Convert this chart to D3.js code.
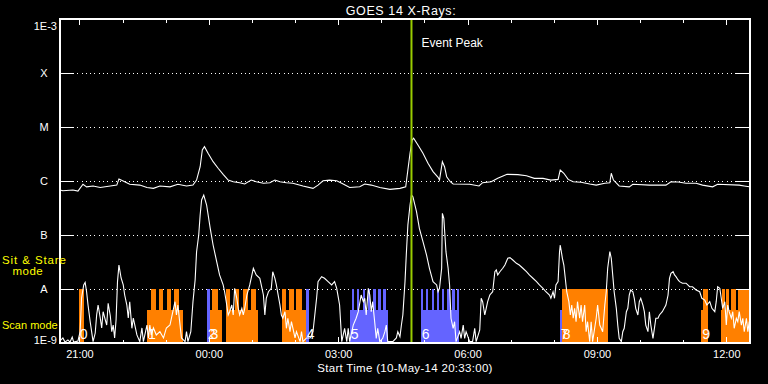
<!DOCTYPE html>
<html><head><meta charset="utf-8">
<script src="https://cdn.jsdelivr.net/npm/d3@7"></script>
<style>html,body{margin:0;padding:0;background:#000;}svg{display:block;}</style>
</head><body><svg id="chart" width="768" height="384"></svg>
<script>
// ---------- DATA ----------
const chartTitle = "GOES 14 X-Rays:";
const startTime = new Date(2014, 4, 10, 20, 33, 0);   // 10-May-14 20:33:00
const spanHours = 16;
const eventPeakMin = 489;                               // minutes after start
const yLevels = [1e-9, 1e-8, 1e-7, 1e-6, 1e-5, 1e-4, 1e-3];
const yLabels = ["1E-9", "A", "B", "C", "M", "X", "1E-3"];

// long channel (1-8 A), minutes after start / flux W m^-2
const longTimes = [0,4,18,25,32,37,46,56,70,79,82,90,97,111,121,130,139,153,164,176,185,190,195,198,201,206,213,220,227,234,241,250,257,266,273,283,292,299,306,315,324,338,352,359,366,375,385,394,403,417,424,433,445,459,473,481,484,487,490,492,498,505,512,519,526,528,532,535,538,543,547,570,583,588,600,609,622,637,649,660,672,683,693,696,701,707,714,725,737,746,758,765,767,770,778,792,797,820,843,850,860,871,885,894,908,915,945,952,959];
const longFlux = [6.8e-7,6.6e-7,6.8e-7,6.5e-7,8.7e-7,7.8e-7,8.1e-7,7.6e-7,8.1e-7,8.4e-7,1.09e-6,9.7e-7,8.7e-7,8.4e-7,7.6e-7,7.3e-7,8.1e-7,7.8e-7,8.7e-7,8.1e-7,8.4e-7,1.04e-6,1.84e-6,3.75e-6,4.32e-6,3.26e-6,2.28e-6,1.72e-6,1.33e-6,1.04e-6,9.7e-7,9.3e-7,8.8e-7,1.04e-6,9.7e-7,9.1e-7,9.3e-7,1.04e-6,9.7e-7,9.3e-7,9.1e-7,8.1e-7,7.3e-7,8.4e-7,1.01e-6,1.04e-6,1.01e-6,8.8e-7,7.6e-7,7.8e-7,8.8e-7,8.4e-7,7.6e-7,7.0e-7,7.3e-7,7.8e-7,1.6e-6,3.26e-6,5.74e-6,6.18e-6,4.64e-6,3.26e-6,2.13e-6,1.49e-6,1.17e-6,1.04e-6,2.28e-6,1.84e-6,1.2e-6,9.7e-7,8.8e-7,8.7e-7,8.1e-7,9.3e-7,9.7e-7,1.12e-6,1.33e-6,1.31e-6,1.25e-6,1.12e-6,1.12e-6,1.04e-6,1.07e-6,1.6e-6,1.39e-6,1.07e-6,9.7e-7,9.5e-7,8.8e-7,8.4e-7,9.1e-7,9.3e-7,1.39e-6,1.04e-6,8.1e-7,7.8e-7,8.7e-7,8.4e-7,8.4e-7,9.7e-7,9.6e-7,9.1e-7,9.1e-7,8.4e-7,7.8e-7,8.7e-7,8.4e-7,8.1e-7,7.8e-7];

// short channel (0.5-4 A)
const shortTimes = [0,4,7,11,14,17,19,25,28,30,33,35,37,39,42,44,46,49,51,53,56,58,60,63,65,67,70,72,74,76,78,80,82,85,88,90,93,95,97,100,102,107,111,114,116,121,123,125,127,130,134,139,144,148,153,157,160,162,164,167,169,174,176,178,182,185,188,190,193,195,197,200,204,209,213,218,222,227,229,232,234,236,239,241,243,246,248,250,253,255,257,260,264,269,273,278,280,283,285,287,290,294,296,299,301,306,308,310,313,315,317,320,322,327,329,334,336,338,343,348,352,354,357,359,364,368,373,378,382,385,387,389,392,396,399,401,403,408,412,415,419,422,424,426,429,431,433,435,438,440,442,445,449,452,454,456,463,468,470,473,475,477,480,482,484,487,489,491,496,500,505,510,514,519,524,526,528,531,532,534,537,540,542,544,547,549,551,556,558,561,563,565,570,574,577,579,584,586,588,591,593,595,598,602,605,607,609,612,616,619,623,626,630,635,639,644,649,653,658,663,667,672,676,681,683,686,688,690,693,695,696,699,701,703,705,708,710,712,714,716,718,720,723,725,727,730,732,734,737,739,741,746,748,751,753,755,758,760,762,765,767,769,771,774,776,778,781,783,785,788,790,792,794,797,799,801,804,806,808,811,813,815,818,820,822,825,827,829,832,834,838,843,846,848,850,853,855,857,860,862,866,871,876,880,885,890,893,897,900,904,907,911,913,915,918,920,922,925,927,929,931,934,936,938,941,943,945,948,950,952,955,957,959];
const shortFlux = [1.09e-9,1.24e-9,1.04e-9,1.14e-9,1.04e-9,1.29e-9,1.04e-9,1.09e-9,1.62e-9,6.8e-9,1.19e-8,1.33e-8,8.9e-9,5.05e-9,2.48e-9,1.62e-9,1.06e-9,1.53e-9,3.3e-9,5.05e-9,2.9e-9,1.9e-9,3.8e-9,2.67e-9,2.15e-9,5.43e-9,3.16e-9,1.62e-9,2.15e-9,1.24e-9,2.67e-9,1.37e-8,2.78e-8,1.6e-8,1.19e-8,7.74e-9,5.05e-9,2.9e-9,5.82e-9,1.87e-9,2.9e-9,1.41e-9,1.06e-9,1.9e-9,1.06e-9,2.15e-9,1.24e-9,2.15e-9,1.41e-9,1.9e-9,1.41e-9,1.62e-9,1.24e-9,1.9e-9,2.15e-9,3.8e-9,5.82e-9,3.3e-9,5.05e-9,2.15e-9,1.24e-9,1.06e-9,1.62e-9,1.06e-9,1.62e-9,5.82e-9,1.47e-8,4.84e-8,1.0e-7,2.35e-7,4.45e-7,5.5e-7,3.59e-7,1.33e-7,6.53e-8,3.21e-8,1.82e-8,1.19e-8,8.9e-9,5.05e-9,3.3e-9,3.8e-9,5.05e-9,3.3e-9,1.03e-8,6.73e-9,4.39e-9,3.3e-9,4.39e-9,3.3e-9,4.39e-9,7.74e-9,1.19e-8,2.42e-8,1.82e-8,1.58e-8,1.19e-8,7.74e-9,3.3e-9,6.73e-9,8.9e-9,1.03e-8,2.09e-8,1.58e-8,1.19e-8,5.05e-9,3.3e-9,2.87e-9,3.8e-9,1.87e-9,2.87e-9,1.62e-9,2.48e-9,1.24e-9,1.62e-9,1.06e-9,1.62e-9,1.06e-9,1.24e-9,1.24e-9,1.62e-9,2.87e-9,6.73e-9,1.37e-8,1.69e-8,1.58e-8,1.37e-8,1.19e-8,1.37e-8,1.03e-8,7.2e-9,5.05e-9,1.06e-9,1.87e-9,1.06e-9,1.87e-9,1.06e-9,2.15e-9,2.87e-9,3.8e-9,7.74e-9,5.82e-9,6.73e-9,3.3e-9,1.03e-8,7.74e-9,3.8e-9,5.82e-9,2.32e-9,1.22e-9,1.87e-9,1.06e-9,1.22e-9,1.62e-9,2.15e-9,1.06e-9,1.06e-9,1.24e-9,1.62e-9,1.31e-9,2.15e-9,3.3e-9,1.37e-8,4.91e-8,1.53e-7,3.59e-7,5.5e-7,5.12e-7,2.7e-7,1.33e-7,7.52e-8,4.26e-8,2.42e-8,1.37e-8,1.19e-8,8.9e-9,1.03e-8,2.42e-8,2.52e-7,2.04e-7,4.91e-8,2.42e-8,1.19e-8,2.87e-9,1.87e-9,2.48e-9,1.06e-9,1.62e-9,1.22e-9,2.15e-9,1.22e-9,1.62e-9,1.06e-9,1.06e-9,1.87e-9,1.06e-9,1.74e-9,6.73e-9,5.82e-9,3.3e-9,4.39e-9,5.82e-9,7.74e-9,8.9e-9,2.09e-8,2.25e-8,1.82e-8,2.09e-8,2.42e-8,2.78e-8,3.7e-8,3.8e-8,3.44e-8,2.99e-8,2.78e-8,2.42e-8,2.09e-8,1.82e-8,1.58e-8,1.37e-8,1.19e-8,1.03e-8,8.9e-9,7.74e-9,6.73e-9,8.9e-9,6.73e-9,1.19e-8,1.37e-8,4.91e-8,6.53e-8,3.7e-8,2.78e-8,1.58e-8,8.9e-9,5.82e-9,3.3e-9,5.05e-9,2.87e-9,4.39e-9,2.48e-9,5.82e-9,2.87e-9,5.05e-9,2.48e-9,5.05e-9,1.62e-9,2.48e-9,1.06e-9,2.48e-9,1.06e-9,2.87e-9,5.05e-9,2.15e-9,1.87e-9,1.62e-9,5.05e-9,8.9e-9,2.42e-8,4.91e-8,3.7e-8,1.82e-8,8.9e-9,4.39e-9,2.15e-9,1.22e-9,1.06e-9,1.62e-9,1.87e-9,3.8e-9,4.39e-9,7.74e-9,9.58e-9,8.9e-9,6.73e-9,4.39e-9,3.3e-9,5.82e-9,6.73e-9,5.05e-9,3.8e-9,2.15e-9,1.62e-9,3.8e-9,2.15e-9,1.22e-9,1.87e-9,2.87e-9,2.87e-9,3.3e-9,3.8e-9,5.05e-9,7.74e-9,1.58e-8,1.95e-8,2.09e-8,1.82e-8,1.69e-8,1.47e-8,1.37e-8,1.28e-8,1.28e-8,1.1e-8,1.1e-8,9.58e-9,8.9e-9,6.73e-9,6.25e-9,5.05e-9,5.82e-9,4.39e-9,3.8e-9,5.82e-9,1.1e-8,1.03e-8,6.73e-9,4.39e-9,5.82e-9,2.15e-9,5.05e-9,3.8e-9,2.87e-9,3.8e-9,1.87e-9,2.87e-9,2.48e-9,3.8e-9,2.15e-9,2.87e-9,1.62e-9,2.87e-9,1.62e-9,2.48e-9];

// observing blocks: start / end (minutes after start), mode, instrument group
const barStart = [26,121,126,138,149,158,204,208,212,231,231,243,255,266,309,309,319,329,342,403,406,413,421,428,436,443,450,502,502,509,517,524,531,539,546,552,695,698,892,895,919,921,926,933,937,943];
const barEnd   = [34,171,133,143,154,165,208,226,220,276,237,249,261,272,342,314,325,336,346,457,409,416,424,431,439,446,453,555,505,512,520,527,534,542,549,555,698,762,902,902,959,925,931,936,941,959];
const barMode  = ["stare","scan","stare","stare","stare","stare","stare","scan","stare","scan","stare","stare","stare","stare","scan","stare","stare","stare","stare","scan","stare","stare","stare","stare","stare","stare","stare","scan","stare","stare","stare","stare","stare","stare","stare","stare","scan","stare","scan","stare","scan","stare","stare","stare","stare","stare"];
const barGroup = ["a","a","a","a","a","a","b","a","a","a","a","a","a","a","a","a","a","a","b","b","b","b","b","b","b","b","b","b","b","b","b","b","b","b","b","b","b","a","a","a","a","a","a","a","a","a"];

// numbered observations
const obsLabels = ["0","1","2","3","4","5","6","7","8","9"];
const obsTimes  = [26,121,204,208,342,403,502,695,698,892];

// ---------- LAYOUT ----------
const W = 768, H = 384;
const L = 60, R = 750, T = 19, B = 343;
const svg = d3.select("#chart");
svg.append("rect").attr("width", W).attr("height", H).attr("fill", "#000");

const toDate = m => new Date(startTime.getTime() + m * 60000);
const x = d3.scaleTime().domain([startTime, toDate(spanHours * 60)]).range([L, R]);
const y = d3.scaleLog().domain([1e-9, 1e-3]).range([B, T]);
const modeTop = {stare: 1e-8, scan: 4.1e-9};
const groupColor = {a: "#ff8000", b: "#6464ff"};
const font = "'Liberation Sans', Arial, sans-serif";

svg.append("defs").append("clipPath").attr("id", "plot")
  .append("rect").attr("x", L).attr("y", T).attr("width", R - L).attr("height", B - T);

// dotted grid
svg.append("g").selectAll("line").data(yLevels.slice(1, -1)).join("line")
  .attr("x1", L).attr("x2", R).attr("y1", d => y(d)).attr("y2", d => y(d))
  .attr("stroke", "#fff").attr("stroke-width", 1).attr("stroke-dasharray", "1,3.3")
  .attr("shape-rendering", "crispEdges");

// bars
const bars = barStart.map((s, i) => ({s, e: barEnd[i], m: barMode[i], g: barGroup[i]}));
svg.append("g").attr("clip-path", "url(#plot)").selectAll("rect").data(bars).join("rect")
  .attr("x", d => x(toDate(d.s))).attr("width", d => x(toDate(d.e)) - x(toDate(d.s)))
  .attr("y", d => y(modeTop[d.m])).attr("height", d => B - y(modeTop[d.m]))
  .attr("fill", d => groupColor[d.g]).attr("shape-rendering", "crispEdges");

// observation numbers
svg.append("g").selectAll("text").data(obsTimes).join("text")
  .attr("x", d => x(toDate(d)) + 1).attr("y", 338.5)
  .attr("fill", "#fff").attr("font-family", font).attr("font-size", 14)
  .text((d, i) => obsLabels[i]);

// lines
const line = d3.line().x(d => x(toDate(d[0]))).y(d => y(d[1]));
const gl = svg.append("g").attr("clip-path", "url(#plot)");
gl.append("path").datum(longTimes.map((t, i) => [t, longFlux[i]]))
  .attr("d", line).attr("fill", "none").attr("stroke", "#fff").attr("stroke-width", 1.1);
gl.append("path").datum(shortTimes.map((t, i) => [t, shortFlux[i]]))
  .attr("d", line).attr("fill", "none").attr("stroke", "#fff").attr("stroke-width", 1.1);

// event peak
const xe = x(toDate(eventPeakMin));
svg.append("line").attr("x1", xe).attr("x2", xe).attr("y1", T).attr("y2", B)
  .attr("stroke", "#99cc00").attr("stroke-width", 2);
svg.append("text").attr("x", xe + 10).attr("y", 47).attr("fill", "#fff")
  .attr("font-family", font).attr("font-size", 12).text("Event Peak");

// axes
const hours = d3.timeHour.every(1).range(startTime, toDate(spanHours * 60 + 1));
const major = hours.filter(d => d.getHours() % 3 === 0);
const styleAxis = g => {
  g.select(".domain").remove();
  g.selectAll("line").attr("stroke", "#fff").attr("shape-rendering", "crispEdges");
  g.selectAll("text").attr("fill", "#fff").attr("font-family", font).attr("font-size", 11);
};
svg.append("g").attr("transform", `translate(0,${B})`)
  .call(d3.axisBottom(x).tickValues(hours).tickSizeInner(-3.5).tickSizeOuter(0).tickFormat(""))
  .call(styleAxis);
svg.append("g").attr("transform", `translate(0,${B})`)
  .call(d3.axisBottom(x).tickValues(major).tickSizeInner(-6).tickSizeOuter(0).tickPadding(7)
    .tickFormat(d3.timeFormat("%H:%M")))
  .call(styleAxis);
svg.append("g").attr("transform", `translate(0,${T})`)
  .call(d3.axisTop(x).tickValues(hours).tickSizeInner(-3.5).tickSizeOuter(0).tickFormat(""))
  .call(styleAxis);
svg.append("g").attr("transform", `translate(0,${T})`)
  .call(d3.axisTop(x).tickValues(major).tickSizeInner(-6).tickSizeOuter(0).tickFormat(""))
  .call(styleAxis);

const yAx = svg.append("g").attr("transform", `translate(${L},0)`)
  .call(d3.axisLeft(y).tickValues(yLevels).tickSizeInner(-14).tickSizeOuter(0).tickPadding(3)
    .tickFormat((d, i) => yLabels[yLevels.indexOf(d)]))
  .call(styleAxis);
yAx.selectAll(".tick text").each(function(d) {
  const t = d3.select(this);
  if (d === 1e-3) t.attr("dy", "0.95em");
  else if (d === 1e-9) t.attr("dy", "0.05em");
  else t.attr("text-anchor", "middle").attr("x", -16);
});
svg.append("g").attr("transform", `translate(${R},0)`)
  .call(d3.axisRight(y).tickValues(yLevels).tickSizeInner(-14).tickSizeOuter(0).tickFormat(""))
  .call(styleAxis);

// frame
svg.append("rect").attr("x", L).attr("y", T).attr("width", R - L).attr("height", B - T)
  .attr("fill", "none").attr("stroke", "#fff").attr("stroke-width", 1.3)
  .attr("shape-rendering", "crispEdges");

// title and labels
svg.append("text").attr("x", 401).attr("y", 15).attr("text-anchor", "middle")
  .attr("fill", "#fff").attr("font-family", font).attr("font-size", 12.5)
  .attr("letter-spacing", 0.6).text(chartTitle);
svg.append("text").attr("x", 405).attr("y", 371.5).attr("text-anchor", "middle")
  .attr("fill", "#fff").attr("font-family", font).attr("font-size", 11.5)
  .attr("letter-spacing", 0.3)
  .text("Start Time (" + d3.timeFormat("%d-%b-%y %H:%M:%S")(startTime) + ")");
const yellow = "#ffff00";
svg.append("text").attr("x", 2).attr("y", 263.5).attr("fill", yellow)
  .attr("font-family", font).attr("font-size", 11.5).attr("letter-spacing", 0.9).text("Sit & Stare");
svg.append("text").attr("x", 12.5).attr("y", 275).attr("fill", yellow)
  .attr("font-family", font).attr("font-size", 11.5).attr("letter-spacing", 0.5).text("mode");
svg.append("text").attr("x", 2).attr("y", 328.5).attr("fill", yellow)
  .attr("font-family", font).attr("font-size", 11).text("Scan mode");
</script></body></html>
